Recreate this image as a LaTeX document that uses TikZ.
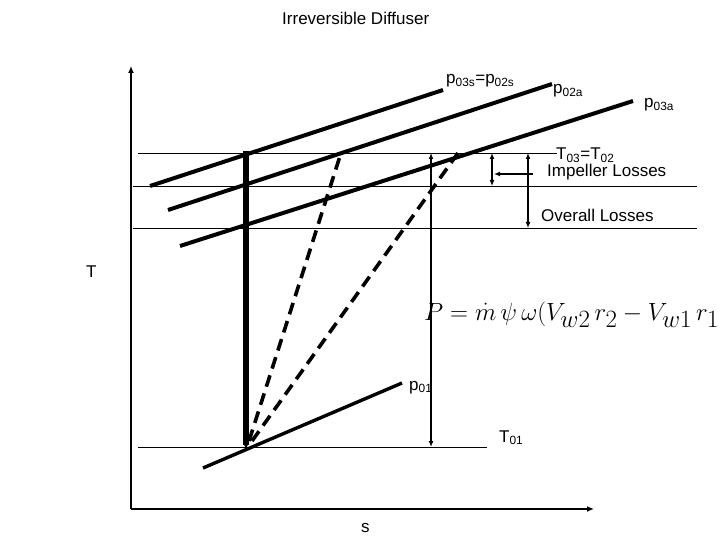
\documentclass[tikz,border=0pt]{standalone}
\usepackage{amsmath,amssymb}
\usepackage{fontspec}
\setmainfont{Liberation Sans}
\usepackage{tikz}
\usetikzlibrary{arrows.meta,positioning,calc}

\begin{document}
\begin{tikzpicture}[
  x=1pt, y=-1pt,
  font=\fontsize{17}{20}\selectfont,
  lbl/.style={inner sep=0pt, anchor=base west},
  axis/.style={-{Latex[length=7pt,width=6pt]}, line width=2pt},
  isobar/.style={line width=4pt},
  level/.style={line width=0.9pt},
  process/.style={line width=3.6pt, dash pattern=on 12pt off 7pt},
  dim/.style={{Latex[length=6pt,width=5pt]}-{Latex[length=6pt,width=5pt]}, line width=1.8pt},
]
\useasboundingbox (0,0) rectangle (720,540);

% axes
\coordinate (origin) at (131,509);
\coordinate (taxis) at (131,66);
\coordinate (saxis) at (594,509);
\draw[axis] (origin) -- (taxis);
\draw[axis] (origin) -- (saxis);

% constant temperature levels
\coordinate (lvA1) at (138,153); \coordinate (lvA2) at (557,153);
\coordinate (lvB1) at (133,186); \coordinate (lvB2) at (697,186);
\coordinate (lvC1) at (133,228); \coordinate (lvC2) at (697,228);
\coordinate (lvD1) at (138,447); \coordinate (lvD2) at (487,447);
\draw[level] (lvA1) -- (lvA2);
\draw[level] (lvB1) -- (lvB2);
\draw[level] (lvC1) -- (lvC2);
\draw[level] (lvD1) -- (lvD2);

% isobars
\coordinate (pS1) at (150,186); \coordinate (pS2) at (443,90);
\coordinate (pA1) at (168,210); \coordinate (pA2) at (552,84);
\coordinate (pB1) at (180,246); \coordinate (pB2) at (633,101);
\coordinate (pI1) at (203,468); \coordinate (pI2) at (402,383);
\draw[isobar] (pS1) -- (pS2);
\draw[isobar] (pA1) -- (pA2);
\draw[isobar] (pB1) -- (pB2);
\draw[line width=3.4pt] (pI1) -- (pI2);

% isentropic and actual processes
\coordinate (inlet) at (246,449);
\coordinate (isenTop) at (246,151);
\draw[line width=5.5pt, -{Latex[length=4pt,width=4pt]}] (isenTop) -- (inlet);
\coordinate (dA0) at (249,441); \coordinate (dA1) at (341,153);
\coordinate (dB0) at (252,441); \coordinate (dB1) at (458,153);
\draw[process] (dA0) -- (dA1);
\draw[process] (dB0) -- (dB1);

% losses
\coordinate (work1) at (431,153); \coordinate (work2) at (431,447);
\draw[dim] (work1) -- (work2);
\coordinate (imp1) at (492,153); \coordinate (imp2) at (492,186);
\draw[dim] (imp1) -- (imp2);
\coordinate (ovr1) at (528,153); \coordinate (ovr2) at (528,228);
\draw[dim] (ovr1) -- (ovr2);
\coordinate (impTail) at (533,174); \coordinate (impHead) at (494,174);
\draw[line width=1.8pt, -{Latex[length=6pt,width=5pt]}] (impTail) -- (impHead);

% labels
\node[lbl] (title) at (282,25) {Irreversible Diffuser};
\node[lbl] (lblS) at (446,84) {p\textsubscript{03s}=p\textsubscript{02s}};
\node[lbl] (lblA) at (553,94) {p\textsubscript{02a}};
\node[lbl] (lblB) at (644,108) {p\textsubscript{03a}};
\node[lbl] (lblT2) at (556,160) {T\textsubscript{03}=T\textsubscript{02}};
\node[lbl] (lblImp) at (547,177) {Impeller Losses};
\node[lbl] (lblOvr) at (541,222) {Overall Losses};
\node[lbl] (lblT) at (86,277) {T};
\node[lbl] (lblEnt) at (361,532) {s};
\node[lbl] (lblI) at (409,390) {p\textsubscript{01}};
\node[lbl] (lblT1) at (499,442) {T\textsubscript{01}};
\node[lbl, font=\fontsize{46}{52}\selectfont] (power) at (424,320)
  {$P=\dot m\,\psi\,\omega(V_{w2}\,r_2-V_{w1}\,r_1)$};

\end{tikzpicture}
\end{document}
